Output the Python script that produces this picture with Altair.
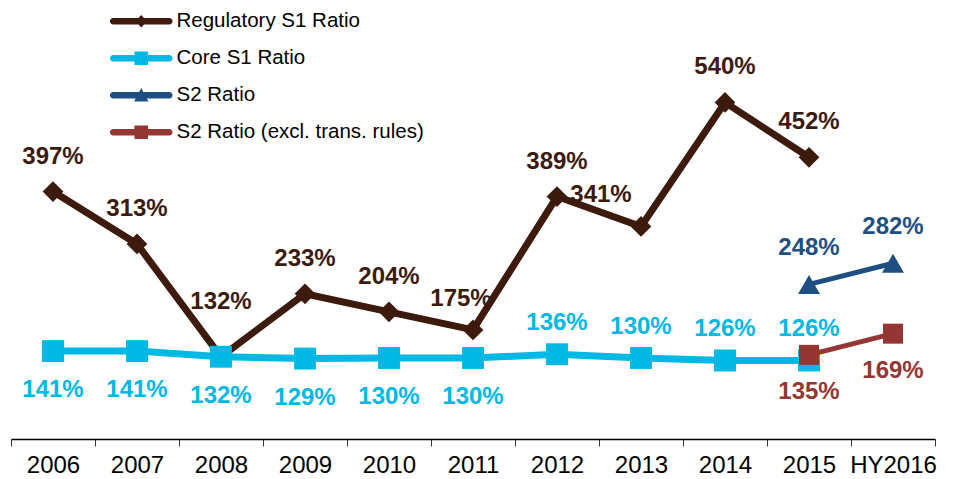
import altair as alt
import pandas as pd

# ---------------- data ----------------
CATS = ["2006", "2007", "2008", "2009", "2010", "2011", "2012", "2013", "2014", "2015", "HY2016"]
SERIES = ["Regulatory S1 Ratio", "Core S1 Ratio", "S2 Ratio", "S2 Ratio (excl. trans. rules)"]

REG_CATS = ["2006", "2007", "2008", "2009", "2010", "2011", "2012", "2013", "2014", "2015"]
REG_S1 = [397, 313, 132, 233, 204, 175, 389, 341, 540, 452]

CORE_CATS = ["2006", "2007", "2008", "2009", "2010", "2011", "2012", "2013", "2014", "2015"]
CORE_S1 = [141, 141, 132, 129, 130, 130, 136, 130, 126, 126]

S2_CATS = ["2015", "HY2016"]
S2 = [248, 282]
S2_EXCL = [135, 169]

# ---------------- styles ----------------
COLORS = ["#3C1A0C", "#00B8E4", "#1F4E80", "#943634"]
MARKERS = ["diamond", "square", "triangle-up", "square"]
MARKER_SIZE = [430, 480, 480, 400]
LINE_W = [7, 7, 5, 5]

# legend symbols: rounded thick line + marker in one path (unit = 10 px)
LINE = "M-2.8,-0.33L2.8,-0.33A0.33,0.33 0 0 1 2.8,0.33L-2.8,0.33A0.33,0.33 0 0 1 -2.8,-0.33Z"
LEGEND_PATHS = [
    LINE + "M0,-0.62L0.57,0L0,0.62L-0.57,0Z",
    LINE + "M-0.68,-0.68L0.68,-0.68L0.68,0.68L-0.68,0.68Z",
    LINE + "M0,-0.72L0.72,0.62L-0.72,0.62Z",
    LINE + "M-0.68,-0.68L0.68,-0.68L0.68,0.68L-0.68,0.68Z",
]

rows = []
for s, cats, vals in [
    (SERIES[0], REG_CATS, REG_S1),
    (SERIES[1], CORE_CATS, CORE_S1),
    (SERIES[2], S2_CATS, S2),
    (SERIES[3], S2_CATS, S2_EXCL),
]:
    for c, v in zip(cats, vals):
        rows.append({"cat": c, "series": s, "value": v, "label": f"{v}%"})
df = pd.DataFrame(rows)

FONT = "Liberation Sans"

X = alt.X(
    "cat:N",
    sort=CATS,
    scale=alt.Scale(type="band", domain=CATS, paddingInner=0, paddingOuter=0),
    axis=alt.Axis(
        title=None,
        tickBand="extent",
        labelAngle=0,
        labelFont=FONT,
        labelFontSize=24,
        labelColor="#000000",
        labelPadding=7,
        tickSize=7,
        tickColor="#333333",
        tickWidth=1,
        domainColor="#000000",
        domainWidth=1.5,
        grid=False,
    ),
)
Y = alt.Y("value:Q", scale=alt.Scale(domain=[0, 683.5], nice=False, zero=True), axis=None)

base = alt.Chart(df)

# label placement per series / category: (series index, categories, dx, dy)
LABEL_PLACEMENT = [
    (0, ["2006", "2007", "2009", "2010", "2012", "2014", "2015"], 0, -35),
    (0, ["2008"], 0, -55),
    (0, ["2011"], -12, -31),
    (0, ["2013"], -40, -31),
    (1, ["2006", "2007", "2008", "2009", "2010", "2011"], 0, 39),
    (1, ["2012", "2013", "2014", "2015"], 0, -31),
    (2, ["2015", "HY2016"], 0, -36),
    (3, ["2015", "HY2016"], 0, 37),
]

layers = []

for si, cats, dx, dy in LABEL_PLACEMENT:
    layers.append(
        base.transform_filter(alt.datum.series == SERIES[si])
        .transform_filter(alt.FieldOneOfPredicate(field="cat", oneOf=cats))
        .mark_text(
            font=FONT, fontSize=24, fontWeight="bold", color=COLORS[si],
            dx=dx, dy=dy, align="center", baseline="middle",
        )
        .encode(x=X, y=Y, text="label:N")
    )

for i, s in enumerate(SERIES):
    sub = base.transform_filter(alt.datum.series == s)
    layers.append(
        sub.mark_line(color=COLORS[i], strokeWidth=LINE_W[i], strokeJoin="miter")
        .encode(x=X, y=Y, order="cat:N")
    )
    layers.append(
        sub.mark_point(
            shape=MARKERS[i], filled=True, color=COLORS[i], size=MARKER_SIZE[i], opacity=1
        ).encode(x=X, y=Y)
    )

LEGEND = alt.Legend(
    title=None, orient="none", legendX=120, legendY=-2,
    symbolSize=400, symbolStrokeWidth=0, labelFont=FONT,
    labelFontSize=20.5, labelColor="#000000", labelOffset=25,
    rowPadding=16, padding=0, labelLimit=400,
)

# legend-only layer (no marks drawn, legend built from explicit scale domains)
legend_layer = (
    base.transform_filter("false")
    .mark_point(filled=True, opacity=1)
    .encode(
        x=X,
        y=Y,
        color=alt.Color("series:N", scale=alt.Scale(domain=SERIES, range=COLORS), legend=LEGEND),
        shape=alt.Shape("series:N", scale=alt.Scale(domain=SERIES, range=LEGEND_PATHS), legend=LEGEND),
    )
)
layers.append(legend_layer)

chart = (
    alt.layer(*layers)
    .properties(width=924, height=426, padding={"left": 2, "top": 3, "right": 10, "bottom": 5})
    .configure_view(stroke=None)
)

chart.save("out.html", embed_options={"renderer": "svg", "actions": False})
